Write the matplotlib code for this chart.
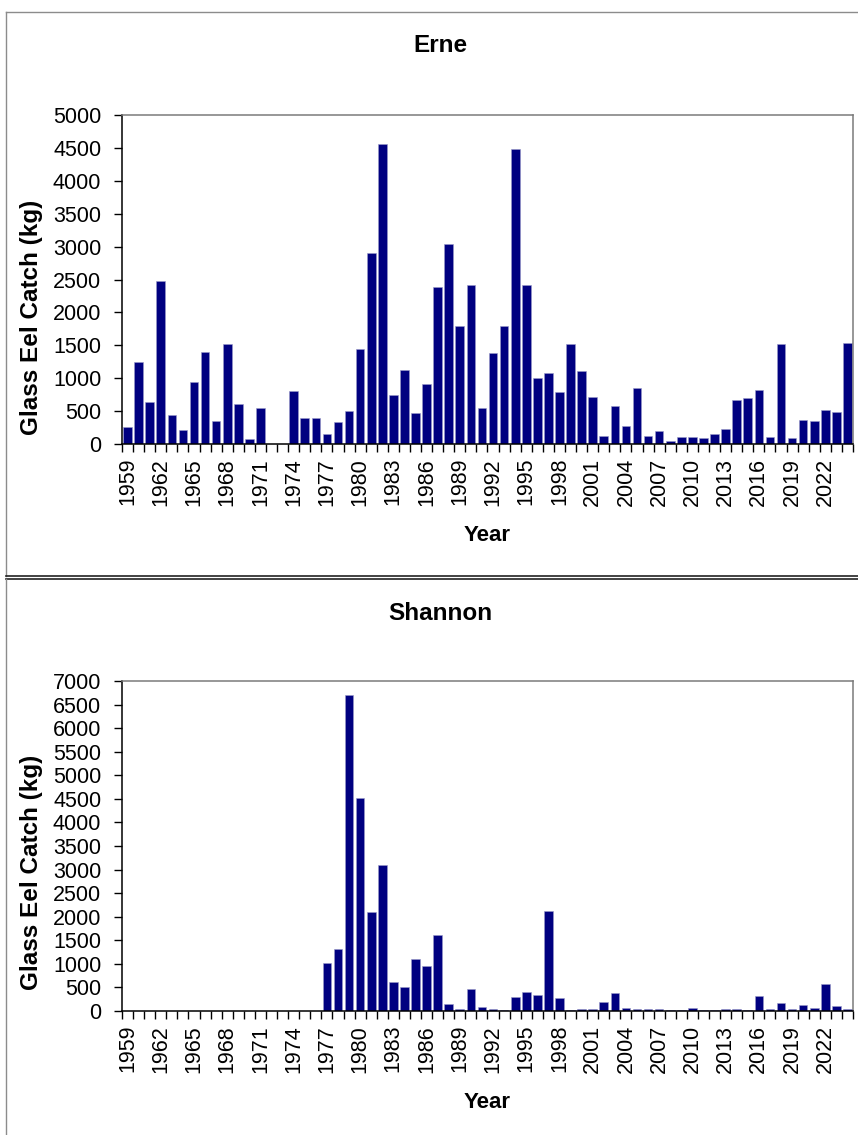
import numpy as np
import matplotlib
matplotlib.use("Agg")
import matplotlib.pyplot as plt
from matplotlib.lines import Line2D
from matplotlib.ticker import MultipleLocator, FixedLocator

# ---------------------------
# Data
# ---------------------------
years = list(range(1959, 2025))

erne_kg = [
    253, 1240, 633, 2480, 435, 218, 941, 1402, 354, 1518,
    607, 71, 547, 0, 0, 805, 400, 400, 147, 329,
    501, 1442, 2905, 4565, 739, 1128, 471, 911, 2379, 3047,
    1791, 2419, 552, 1382, 1797, 4479, 2409, 1007, 1078, 790,
    1513, 1108, 709, 116, 582, 278, 850, 127, 197, 46,
    101, 106, 86, 152, 228, 668, 693, 815, 106, 1518,
    91, 369, 344, 516, 486, 1528,
]

shannon_kg = [
    0, 0, 0, 0, 0, 0, 0, 0, 0, 0,
    0, 0, 0, 0, 0, 0, 0, 0, 1010, 1306,
    6709, 4513, 2105, 3107, 614, 508, 1102, 960, 1617, 155,
    35, 473, 92, 42, 28, 297, 403, 346, 2126, 282,
    28, 49, 35, 191, 388, 71, 49, 49, 49, 21,
    21, 64, 21, 28, 49, 49, 21, 325, 42, 177,
    42, 127, 64, 572, 106, 49,
]

titles = ["Erne", "Shannon"]
y_max = [5000, 7000]

BAR_COLOR = "#000080"
W, H = 858, 1135

plt.rcParams["font.family"] = ["Liberation Sans", "DejaVu Sans"]

fig = plt.figure(figsize=(W / 100, H / 100), dpi=100)


def px_rect(left, top, right, bottom):
    # pixel box -> figure fraction [x0, y0, w, h]
    return [left / W, 1 - bottom / H, (right - left) / W, (bottom - top) / H]


# chart area borders
def fig_line(x0, y0, x1, y1, color, lw=1.0):
    fig.add_artist(Line2D([x0 / W, x1 / W], [1 - y0 / H, 1 - y1 / H],
                          transform=fig.transFigure, color=color, lw=lw))

fig_line(6, 12, 870, 12, "#8c8c8c")
fig_line(6, 12, 6, 576, "#8c8c8c")
fig_line(6, 576, 870, 576, "#222222", 1.2)
fig_line(6, 578.8, 870, 578.8, "#222222", 1.2)
fig_line(6, 578.8, 6, 1140, "#8c8c8c")

panels = [
    dict(data=erne_kg, box=(122, 115, 853, 444), title_y=45, ylab_y=0.385),
    dict(data=shannon_kg, box=(122, 681, 853, 1011), title_y=613, ylab_y=0.42),
]

x = np.arange(len(years))

for i, p in enumerate(panels):
    ax = fig.add_axes(px_rect(*p["box"]))
    ax.bar(x, p["data"], width=0.78, color=BAR_COLOR, edgecolor="#9a9ac8",
           linewidth=0.4, zorder=2)

    ax.set_xlim(-0.5, len(years) - 0.5)
    ax.set_ylim(0, y_max[i])

    # y axis
    ax.yaxis.set_major_locator(MultipleLocator(500))
    ax.tick_params(axis="y", direction="out", length=6, width=1,
                   labelsize=15.5, pad=9, colors="black")

    # x axis: labels every 3 years, ticks between categories
    label_idx = list(range(0, len(years), 3))
    ax.xaxis.set_major_locator(FixedLocator(label_idx))
    ax.set_xticklabels([str(years[k]) for k in label_idx], rotation=90)
    ax.xaxis.set_minor_locator(FixedLocator(np.arange(-0.5, len(years), 1.0)))
    ax.tick_params(axis="x", which="major", length=0, labelsize=15.5, pad=10)
    ax.tick_params(axis="x", which="minor", direction="out", length=6, width=1)

    for side in ["left", "bottom"]:
        ax.spines[side].set_color("black")
        ax.spines[side].set_linewidth(1.1)
    for side in ["top", "right"]:
        ax.spines[side].set_color("#7a7a7a")
        ax.spines[side].set_linewidth(1.1)

    ax.set_ylabel("Glass Eel Catch (kg)", fontsize=17.5, fontweight="bold")
    ax.yaxis.set_label_coords(-0.108, p["ylab_y"])
    ax.set_xlabel("Year", fontsize=16, fontweight="bold")
    ax.xaxis.set_label_coords(0.5, -0.246)

    fig.text(440 / W, 1 - p["title_y"] / H, titles[i], ha="center",
             va="center", fontsize=17.5, fontweight="bold")

fig.savefig("out.png", dpi=100)
